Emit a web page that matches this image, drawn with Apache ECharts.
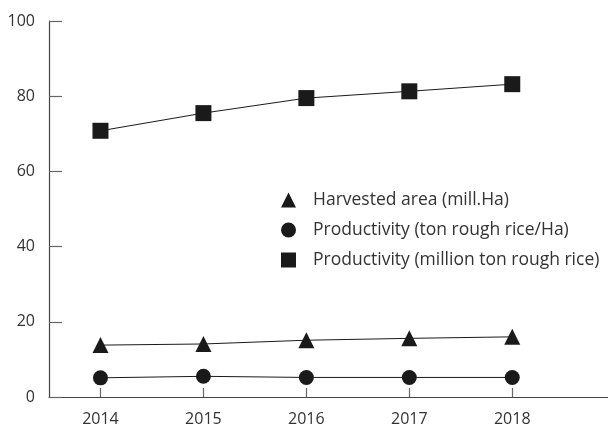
<!DOCTYPE html>
<html><head><meta charset="utf-8">
<script src="https://cdn.jsdelivr.net/npm/echarts@6/dist/echarts.min.js"></script>
<style>html,body{margin:0;padding:0;background:#fff}#c{width:608px;height:428px}</style>
</head><body><div id="c"></div>
<script>
const years = [2014, 2015, 2016, 2017, 2018];
const harvestedArea = [13.8, 14.1, 15.1, 15.6, 16.0];
const productivityPerHa = [5.1, 5.5, 5.2, 5.2, 5.2];
const productionMillion = [70.8, 75.5, 79.5, 81.3, 83.2];
const seriesNames = ['Harvested area (mill.Ha)', 'Productivity (ton rough rice/Ha)', 'Productivity (million ton rough rice)'];
const yTicks = [0, 20, 40, 60, 80, 100];

const FONT = 'Open Sans';
const pair = arr => years.map((y, i) => [y, arr[i]]);
const mk = (name, arr, symbol, size) => ({
  name, type: 'line', data: pair(arr), symbol, symbolSize: size,
  lineStyle: { color: '#1a1a1a', width: 1 },
  itemStyle: { color: '#1a1a1a' }, emphasis: { disabled: true }, animation: false
});

const chart = echarts.init(document.getElementById('c'), null, { renderer: 'canvas' });
chart.setOption({
  animation: false,
  grid: { left: 49, right: 0, top: 21, bottom: 31 },
  xAxis: {
    type: 'value', min: 2013.5, max: 2018.93,
    axisLine: { show: true, lineStyle: { color: '#444', width: 1.2 } },
    axisTick: { show: true, inside: true, length: 9, customValues: years, lineStyle: { color: '#666', width: 1.2 } },
    axisLabel: { customValues: years, formatter: v => String(v), margin: 14, fontSize: 16, color: '#333', fontFamily: FONT },
    splitLine: { show: false }
  },
  yAxis: {
    type: 'value', min: 0, max: 100, interval: 20,
    axisLine: { show: true, lineStyle: { color: '#444', width: 1.2 } },
    axisTick: { show: true, inside: true, length: 13, customValues: yTicks, lineStyle: { color: '#666', width: 1.2 } },
    axisLabel: { customValues: yTicks, margin: 14, fontSize: 16, color: '#333', fontFamily: FONT, verticalAlign: 'middle', padding: [3, 0, 0, 0] },
    splitLine: { show: false }
  },
  legend: {
    orient: 'vertical', left: 276, top: 186,
    itemWidth: 15, itemHeight: 15, itemGap: 12,
    data: [
      { name: seriesNames[0], icon: 'triangle' },
      { name: seriesNames[1], icon: 'circle' },
      { name: seriesNames[2], icon: 'rect' }
    ],
    textStyle: { fontSize: 17.5, lineHeight: 18, color: '#333', fontFamily: FONT, padding: [0, 0, 0, 12] },
    selectedMode: false
  },
  series: [
    mk(seriesNames[0], harvestedArea, 'triangle', 16),
    mk(seriesNames[1], productivityPerHa, 'circle', 15),
    mk(seriesNames[2], productionMillion, 'rect', 16)
  ]
});
</script></body></html>
